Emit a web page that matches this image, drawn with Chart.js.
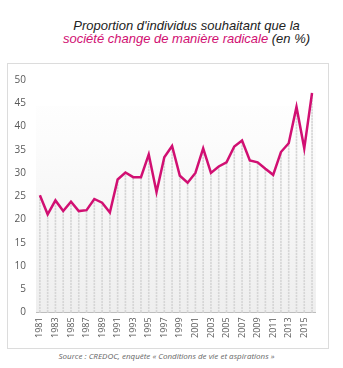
<!DOCTYPE html>
<html>
<head>
<meta charset="utf-8">
<script src="https://cdn.jsdelivr.net/npm/chart.js@4/dist/chart.umd.min.js"></script>
<style>
  body { margin: 0; width: 343px; height: 368px; background: #fff; position: relative; overflow: hidden; font-family: "Liberation Sans", Arial, sans-serif; }
  #title { position: absolute; left: 30px; top: 19px; width: 313px; text-align: center; font-size: 13px; font-style: italic; line-height: 13px; color: #222; }
  #title .hl { color: #d10f72; }
  #box { position: absolute; left: 7px; top: 63px; width: 320px; height: 284px; border: 1px solid #dcdcdc; }
  #source { position: absolute; left: 0; top: 350px; width: 333px; text-align: center; font-size: 8px; font-style: italic; color: #666; font-family: "Open Sans", sans-serif; }
</style>
</head>
<body>
<div id="title">Proportion d'individus souhaitant que la<br><span class="hl">société change de manière radicale</span> (en %)</div>
<div id="box"><canvas id="chart" width="320" height="284"></canvas></div>
<div id="source">Source : CREDOC, enquête « Conditions de vie et aspirations »</div>
<script>
var years = ['1981','1982','1983','1984','1985','1986','1987','1988','1989','1990',
             '1991','1992','1993','1994','1995','1996','1997','1998','1999','2000',
             '2001','2002','2003','2004','2005','2006','2007','2008','2009','2010',
             '2011','2012','2013','2014','2015','2016'];
var radicalChange = [25.2, 21.1, 24.1, 21.8, 23.8, 21.8, 22.0, 24.4, 23.6, 21.5,
                     28.6, 30.1, 29.1, 29.1, 34.0, 25.9, 33.4, 35.8, 29.4, 27.9,
                     30.0, 35.3, 30.0, 31.4, 32.3, 35.7, 37.0, 32.7, 32.3, 30.9,
                     29.6, 34.5, 36.4, 44.2, 35.3, 47.2];

var ctx = document.getElementById('chart').getContext('2d');

// dotted drop line pattern
var pc = document.createElement('canvas');
pc.width = 1; pc.height = 3;
var pctx = pc.getContext('2d');
pctx.fillStyle = '#d6d6d6';
pctx.fillRect(0, 0, 1, 2);
pctx.fillStyle = '#ececec';
pctx.fillRect(0, 2, 1, 1);
var dotted = ctx.createPattern(pc, 'repeat');

var plotBackground = {
    id: 'plotBackground',
    beforeDraw: function(chart) {
        var a = chart.chartArea;
        var c = chart.ctx;
        var g = c.createLinearGradient(0, a.top, 0, a.bottom);
        g.addColorStop(0, '#ffffff');
        g.addColorStop(0.25, '#fcfcfc');
        g.addColorStop(1, '#eeeeee');
        c.save();
        c.fillStyle = g;
        c.fillRect(a.left, a.top + 26, a.right - a.left, a.bottom - a.top - 26);
        c.restore();
    }
};

var chart = new Chart(ctx, {
    type: 'line',
    data: {
        labels: years,
        datasets: [
            {
                type: 'line',
                label: 'Société change de manière radicale',
                data: radicalChange,
                borderColor: '#d10f72',
                borderWidth: 2.5,
                fill: false,
                tension: 0,
                pointRadius: 0,
                order: 0
            },
            {
                type: 'bar',
                label: 'drop',
                data: radicalChange,
                backgroundColor: dotted,
                barThickness: 1,
                order: 1
            }
        ]
    },
    options: {
        responsive: false,
        animation: false,
        layout: { padding: { left: 0, right: 12, top: 4, bottom: 5 } },
        plugins: {
            legend: { display: false },
            tooltip: { enabled: false }
        },
        scales: {
            x: {
                offset: true,
                grid: { display: false, drawTicks: false },
                border: { display: true, color: '#bdbdbd', width: 1 },
                ticks: {
                    autoSkip: false,
                    minRotation: 90,
                    maxRotation: 90,
                    padding: 5,
                    color: '#595959',
                    font: { family: 'Open Sans', size: 9 },
                    callback: function(v, i) { return i % 2 === 0 ? years[i] : ''; }
                }
            },
            y: {
                min: 0,
                max: 50,
                grid: { display: false, drawTicks: false },
                border: { display: false },
                ticks: {
                    stepSize: 5,
                    padding: 10,
                    color: '#595959',
                    font: { family: 'Open Sans', size: 10 }
                },
                afterFit: function(scale) { scale.width = 28; }
            }
        }
    },
    plugins: [plotBackground]
});
</script>
</body>
</html>
